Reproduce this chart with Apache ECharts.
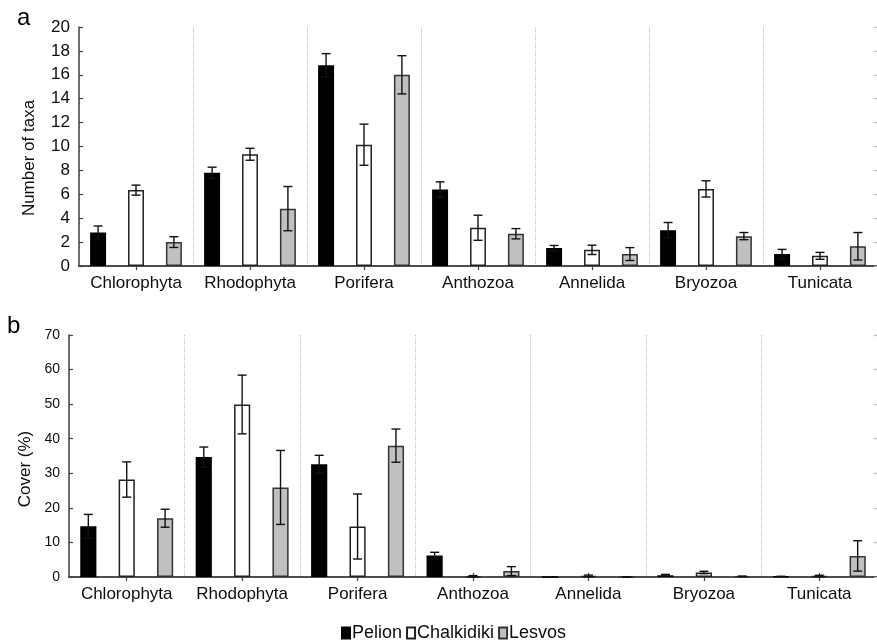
<!DOCTYPE html>
<html>
<head>
<meta charset="utf-8">
<script src="https://cdn.jsdelivr.net/npm/echarts@6/dist/echarts.min.js"></script>
<style>
html,body{margin:0;padding:0;background:#fff;}
#chart{width:877px;height:641px;}
</style>
</head>
<body>
<div id="chart"></div>
<script>
// ---- data ----
var categories = ['Chlorophyta','Rhodophyta','Porifera','Anthozoa','Annelida','Bryozoa','Tunicata'];
var sites = ['Pelion','Chalkidiki','Lesvos'];

// panel a: number of taxa (mean, error)
var taxaPelion        = [2.8, 7.8, 16.8, 6.4, 1.5, 3.0, 1.0];
var taxaPelionErr     = [0.55, 0.47, 0.97, 0.64, 0.22, 0.64, 0.39];
var taxaChalkidiki    = [6.35, 9.35, 10.15, 3.2, 1.35, 6.45, 0.85];
var taxaChalkidikiErr = [0.42, 0.5, 1.72, 1.05, 0.39, 0.68, 0.29];
var taxaLesvos        = [2.0, 4.8, 16.0, 2.7, 1.0, 2.5, 1.65];
var taxaLesvosErr     = [0.45, 1.85, 1.6, 0.43, 0.54, 0.3, 1.15];

// panel b: cover % (mean, error)
var coverPelion        = [14.7, 34.7, 32.6, 6.2, 0, 0.5, 0.15];
var coverPelionErr     = [3.4, 2.9, 2.6, 0.95, 0, 0.25, 0.05];
var coverChalkidiki    = [28.2, 49.9, 14.6, 0.2, 0.3, 1.3, 0.3];
var coverChalkidikiErr = [5.1, 8.5, 9.4, 0.2, 0.25, 0.35, 0.2];
var coverLesvos        = [17.0, 25.9, 38.0, 1.7, 0, 0.2, 6.1];
var coverLesvosErr     = [2.6, 10.7, 4.8, 1.3, 0, 0.05, 4.4];

var taxaTicks = {min: 0, max: 20, interval: 2};
var coverTicks = {min: 0, max: 70, interval: 10};

// ---- styles ----
var FONT = 'Liberation Sans, Arial, sans-serif';
var TXT = '#0d0d0d';
var AX = '#444';
var fills = ['#000000', '#ffffff', '#c0c0c0'];
var borders = ['#000000', '#222222', '#333333'];
var BAR_W = 0.14, BAR_GAP = 1.375;
var OFFS = [-BAR_W * (1 + BAR_GAP), 0, BAR_W * (1 + BAR_GAP)];

var chart = echarts.init(document.getElementById('chart'), null, {renderer: 'canvas'});

function catAxis(gridIndex, pos, showLabel) {
  return {
    type: 'category', gridIndex: gridIndex, position: pos, data: categories,
    boundaryGap: true,
    axisLine: {show: true, lineStyle: {color: AX, width: 1.5}},
    axisTick: {show: true, inside: true, alignWithLabel: true, interval: 0, length: 4, lineStyle: {color: AX, width: 1.2}},
    axisLabel: {show: showLabel, interval: 0, fontFamily: FONT, fontSize: 17, color: TXT, margin: 9},
    splitLine: {show: pos === 'bottom', interval: 0, lineStyle: {color: '#bdbdbd', type: 'dotted', width: 1}}
  };
}
function valAxis(gridIndex, pos, ticks, showLabel, fs, name, gap, pad) {
  var isRight = pos === 'right';
  return {
    type: 'value', gridIndex: gridIndex, position: pos,
    min: ticks.min, max: ticks.max, interval: ticks.interval,
    name: name || '', nameLocation: 'middle', nameGap: gap || 0,
    nameTextStyle: {fontFamily: FONT, fontSize: 17, color: TXT, padding: pad || 0},
    axisLine: {show: !isRight, lineStyle: {color: AX, width: 1.5}},
    axisTick: {show: true, inside: true, length: isRight ? 3 : 4, lineStyle: {color: isRight ? '#bbb' : AX, width: 1.2}},
    axisLabel: {show: showLabel, fontFamily: FONT, fontSize: fs, color: TXT, margin: 9},
    splitLine: {show: false}
  };
}

function barSeries(name, i, xi, yi, values) {
  return {
    name: name, type: 'bar', xAxisIndex: xi, yAxisIndex: yi, data: values,
    barWidth: (BAR_W * 100) + '%', barGap: (BAR_GAP * 100) + '%',
    itemStyle: {color: fills[i], borderColor: borders[i], borderWidth: 1.5},
    emphasis: {disabled: true}, z: 2
  };
}
function errSeries(i, xi, yi, values, errs) {
  var d = values.map(function (v, k) { return [k, v - errs[k], v + errs[k]]; });
  return {
    type: 'custom', xAxisIndex: xi, yAxisIndex: yi, data: d, z: 5, silent: true,
    renderItem: function (params, api) {
      var c = api.value(0);
      var cw = api.size([1, 0])[0];
      var x = api.coord([c, 0])[0] + OFFS[i] * cw;
      var yLo = api.coord([c, api.value(1)])[1];
      var yHi = api.coord([c, api.value(2)])[1];
      var h = 4.5;
      var st = {stroke: '#111', lineWidth: 1.4};
      return {type: 'group', children: [
        {type: 'line', shape: {x1: x, y1: yLo, x2: x, y2: yHi}, style: st},
        {type: 'line', shape: {x1: x - h, y1: yLo, x2: x + h, y2: yLo}, style: st},
        {type: 'line', shape: {x1: x - h, y1: yHi, x2: x + h, y2: yHi}, style: st}
      ]};
    }
  };
}

var taxaVals = [taxaPelion, taxaChalkidiki, taxaLesvos];
var taxaErrs = [taxaPelionErr, taxaChalkidikiErr, taxaLesvosErr];
var coverVals = [coverPelion, coverChalkidiki, coverLesvos];
var coverErrs = [coverPelionErr, coverChalkidikiErr, coverLesvosErr];

var series = [];
sites.forEach(function (s, i) { series.push(barSeries(s, i, 0, 0, taxaVals[i])); });
sites.forEach(function (s, i) { series.push(barSeries(s, i, 2, 2, coverVals[i])); });
sites.forEach(function (s, i) { series.push(errSeries(i, 0, 0, taxaVals[i], taxaErrs[i])); });
sites.forEach(function (s, i) { series.push(errSeries(i, 2, 2, coverVals[i], coverErrs[i])); });

var option = {
  animation: false,
  backgroundColor: '#fff',
  textStyle: {fontFamily: FONT},
  grid: [
    {left: 79, top: 27, width: 801, height: 239},
    {left: 69, top: 335, width: 816, height: 242}
  ],
  xAxis: [
    catAxis(0, 'bottom', true),
    catAxis(0, 'top', false),
    catAxis(1, 'bottom', true),
    catAxis(1, 'top', false)
  ],
  yAxis: [
    valAxis(0, 'left', taxaTicks, true, 17, 'Number of taxa', 41, [0, 23, 0, 0]),
    valAxis(0, 'right', taxaTicks, false, 17),
    valAxis(1, 'left', coverTicks, true, 14, 'Cover (%)', 35, [0, 26, 0, 0]),
    valAxis(1, 'right', coverTicks, false, 14)
  ],
  legend: {
    data: sites, left: 336, top: 619, icon: 'rect',
    itemWidth: 8, itemHeight: 11, itemGap: 4,
    textStyle: {fontFamily: FONT, fontSize: 18, color: TXT, padding: [0, 0, 0, -3]},
    selectedMode: true
  },
  graphic: [
    {type: 'text', left: 17, top: 6, style: {text: 'a', font: '24px ' + FONT, fill: '#000'}},
    {type: 'text', left: 7, top: 314, style: {text: 'b', font: '24px ' + FONT, fill: '#000'}}
  ],
  series: series
};
chart.setOption(option);
</script>
</body>
</html>
